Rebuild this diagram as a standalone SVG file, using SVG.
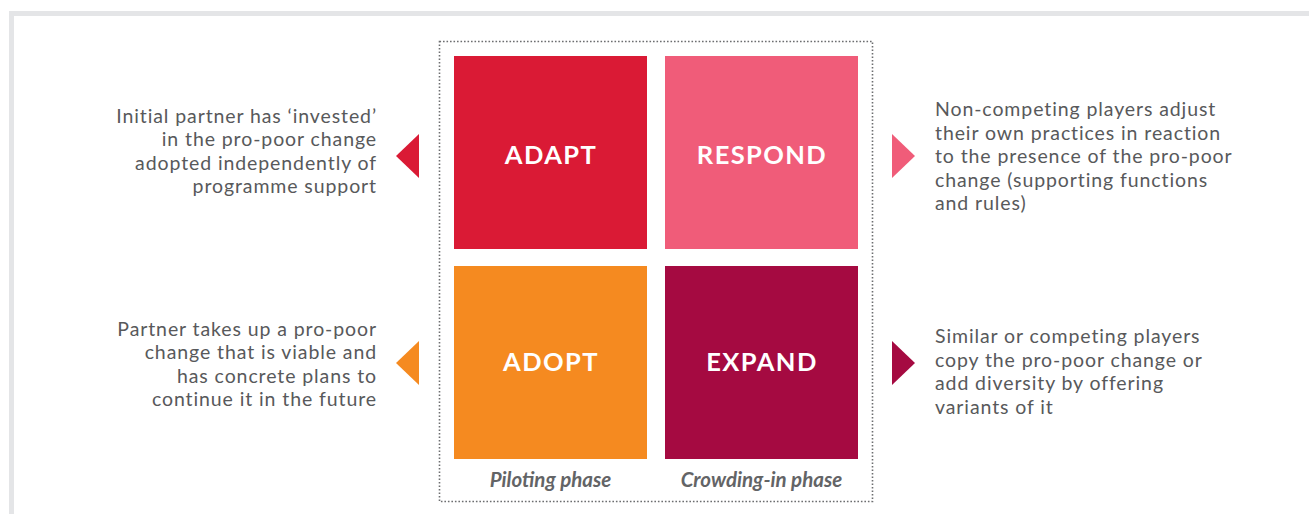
<svg xmlns="http://www.w3.org/2000/svg" width="1309" height="514" viewBox="0 0 1309 514">
<style>
.desc{font-family:Lato,"Open Sans",sans-serif;font-size:19.5px;letter-spacing:0.9px;fill:#58595b}
.lbl{font-family:Lato,"Open Sans",sans-serif;font-size:25.5px;font-weight:bold;fill:#ffffff;letter-spacing:1.4px}
.ph{font-family:Lato,"Open Sans",sans-serif;font-size:20.5px;font-weight:bold;font-style:italic;fill:#636466}
</style>
<rect width="1309" height="514" fill="#ffffff"/>
<path d="M11.5,514 V13.5 H1309" fill="none" stroke="#e4e5e7" stroke-width="5"/>
<rect id="frame" x="439.5" y="41.5" width="433" height="460" fill="none" stroke="#6d6e70" stroke-width="1.6" stroke-dasharray="1.6 1.9"/>
<g id="adapt">
<rect x="454" y="56" width="193" height="193" fill="#da1a35"/>
<text class="lbl" x="551" y="164" text-anchor="middle">ADAPT</text>
</g>
<g id="respond">
<rect x="665" y="56" width="193" height="193" fill="#f05c79"/>
<text class="lbl" x="762" y="164" text-anchor="middle">RESPOND</text>
</g>
<g id="adopt">
<rect x="454" y="266" width="193" height="193" fill="#f58a20"/>
<text class="lbl" x="551" y="371" text-anchor="middle">ADOPT</text>
</g>
<g id="expand">
<rect x="665" y="266" width="193" height="193" fill="#a50a41"/>
<text class="lbl" x="762" y="371" text-anchor="middle">EXPAND</text>
</g>
<g id="phases">
<text class="ph" x="550.5" y="487" text-anchor="middle">Piloting phase</text>
<text class="ph" x="761.5" y="487" text-anchor="middle">Crowding-in phase</text>
</g>
<g id="connectors">
<polygon points="419,134 419,178 396,156" fill="#da1a35"/>
<polygon points="892,134 892,178 915,156" fill="#f05c79"/>
<polygon points="419,341 419,385 396,363" fill="#f58a20"/>
<polygon points="892,341 892,385 915,363" fill="#a50a41"/>
</g>
<g id="desc-adapt">
<text class="desc" text-anchor="end" x="377" y="122.5">Initial partner has ‘invested’</text>
<text class="desc" text-anchor="end" x="377" y="146">in the pro-poor change</text>
<text class="desc" text-anchor="end" x="377" y="169.5">adopted independently of</text>
<text class="desc" text-anchor="end" x="377" y="193">programme support</text>
</g>
<g id="desc-respond">
<text class="desc" x="935" y="116">Non-competing players adjust</text>
<text class="desc" x="935" y="139.5">their own practices in reaction</text>
<text class="desc" x="935" y="163">to the presence of the pro-poor</text>
<text class="desc" x="935" y="186.5">change (supporting functions</text>
<text class="desc" x="935" y="210">and rules)</text>
</g>
<g id="desc-adopt">
<text class="desc" text-anchor="end" x="377" y="335.5">Partner takes up a pro-poor</text>
<text class="desc" text-anchor="end" x="377" y="359">change that is viable and</text>
<text class="desc" text-anchor="end" x="377" y="382.5">has concrete plans to</text>
<text class="desc" text-anchor="end" x="377" y="406">continue it in the future</text>
</g>
<g id="desc-expand">
<text class="desc" x="935" y="343">Similar or competing players</text>
<text class="desc" x="935" y="366.5">copy the pro-poor change or</text>
<text class="desc" x="935" y="390">add diversity by offering</text>
<text class="desc" x="935" y="413.5">variants of it</text>
</g>
</svg>
